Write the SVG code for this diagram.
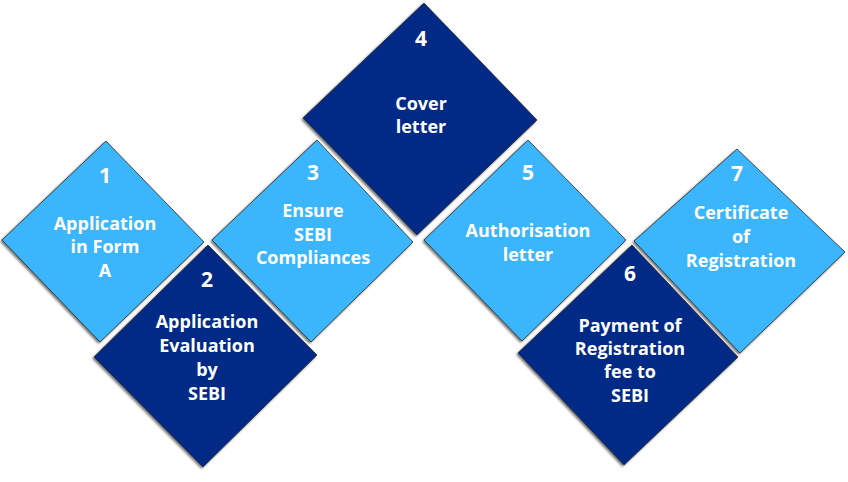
<svg xmlns="http://www.w3.org/2000/svg" width="848" height="482" viewBox="0 0 848 482">
<defs>
<filter id="sh" x="-10%" y="-10%" width="120%" height="120%">
<feDropShadow dx="-1.5" dy="1.5" stdDeviation="1" flood-color="#000" flood-opacity="0.55"/>
</filter>
<style>
.d{stroke:#2a2a2a;stroke-width:0.8;filter:url(#sh);stroke-linejoin:miter}
.light{fill:#3AB5FB}
.dark{fill:#032B86}
text{font-family:"Open Sans","Liberation Sans",sans-serif;font-weight:bold;fill:#fff;text-anchor:middle}
.t{font-size:18px}
.n{font-size:21px}
</style>
</defs>
<rect width="848" height="482" fill="#fff"/>
<g id="connectors"/>
<g id="node1">
<polygon class="d light" points="106,141 204,242 100,342 2,240"/>
<text class="n" x="105" y="183">1</text>
<text class="t" x="105" y="230">Application</text>
<text class="t" x="105" y="253">in Form</text>
<text class="t" x="105" y="277">A</text>
</g>
<g id="node3">
<polygon class="d light" points="317,140 413,242 311,342 212,240"/>
<text class="n" x="313" y="180">3</text>
<text class="t" x="313" y="217">Ensure</text>
<text class="t" x="313" y="241">SEBI</text>
<text class="t" x="313" y="264">Compliances</text>
</g>
<g id="node5">
<polygon class="d light" points="528,140 626,240 522,341 424,240"/>
<text class="n" x="528" y="180">5</text>
<text class="t" x="528" y="237">Authorisation</text>
<text class="t" x="528" y="261">letter</text>
</g>
<g id="node7">
<polygon class="d light" points="737,149 845,252 740,353 634,241"/>
<text class="n" x="737" y="181">7</text>
<text class="t" x="741" y="219">Certificate</text>
<text class="t" x="741" y="243">of</text>
<text class="t" x="741" y="267">Registration</text>
</g>
<g id="node2">
<polygon class="d dark" points="208,245 317,355 203,467 94,357"/>
<text class="n" x="207" y="287">2</text>
<text class="t" x="207" y="328">Application</text>
<text class="t" x="207" y="352">Evaluation</text>
<text class="t" x="207" y="376">by</text>
<text class="t" x="207" y="400">SEBI</text>
</g>
<g id="node4">
<polygon class="d dark" points="424,3 537,120 417,235 303,118"/>
<text class="n" x="421" y="46">4</text>
<text class="t" x="421" y="110">Cover</text>
<text class="t" x="421" y="133">letter</text>
</g>
<g id="node6">
<polygon class="d dark" points="632,245 738,357 624,465 518,353"/>
<text class="n" x="630" y="281">6</text>
<text class="t" x="630" y="332">Payment of</text>
<text class="t" x="630" y="355">Registration</text>
<text class="t" x="630" y="378">fee to</text>
<text class="t" x="630" y="402">SEBI</text>
</g>
</svg>
